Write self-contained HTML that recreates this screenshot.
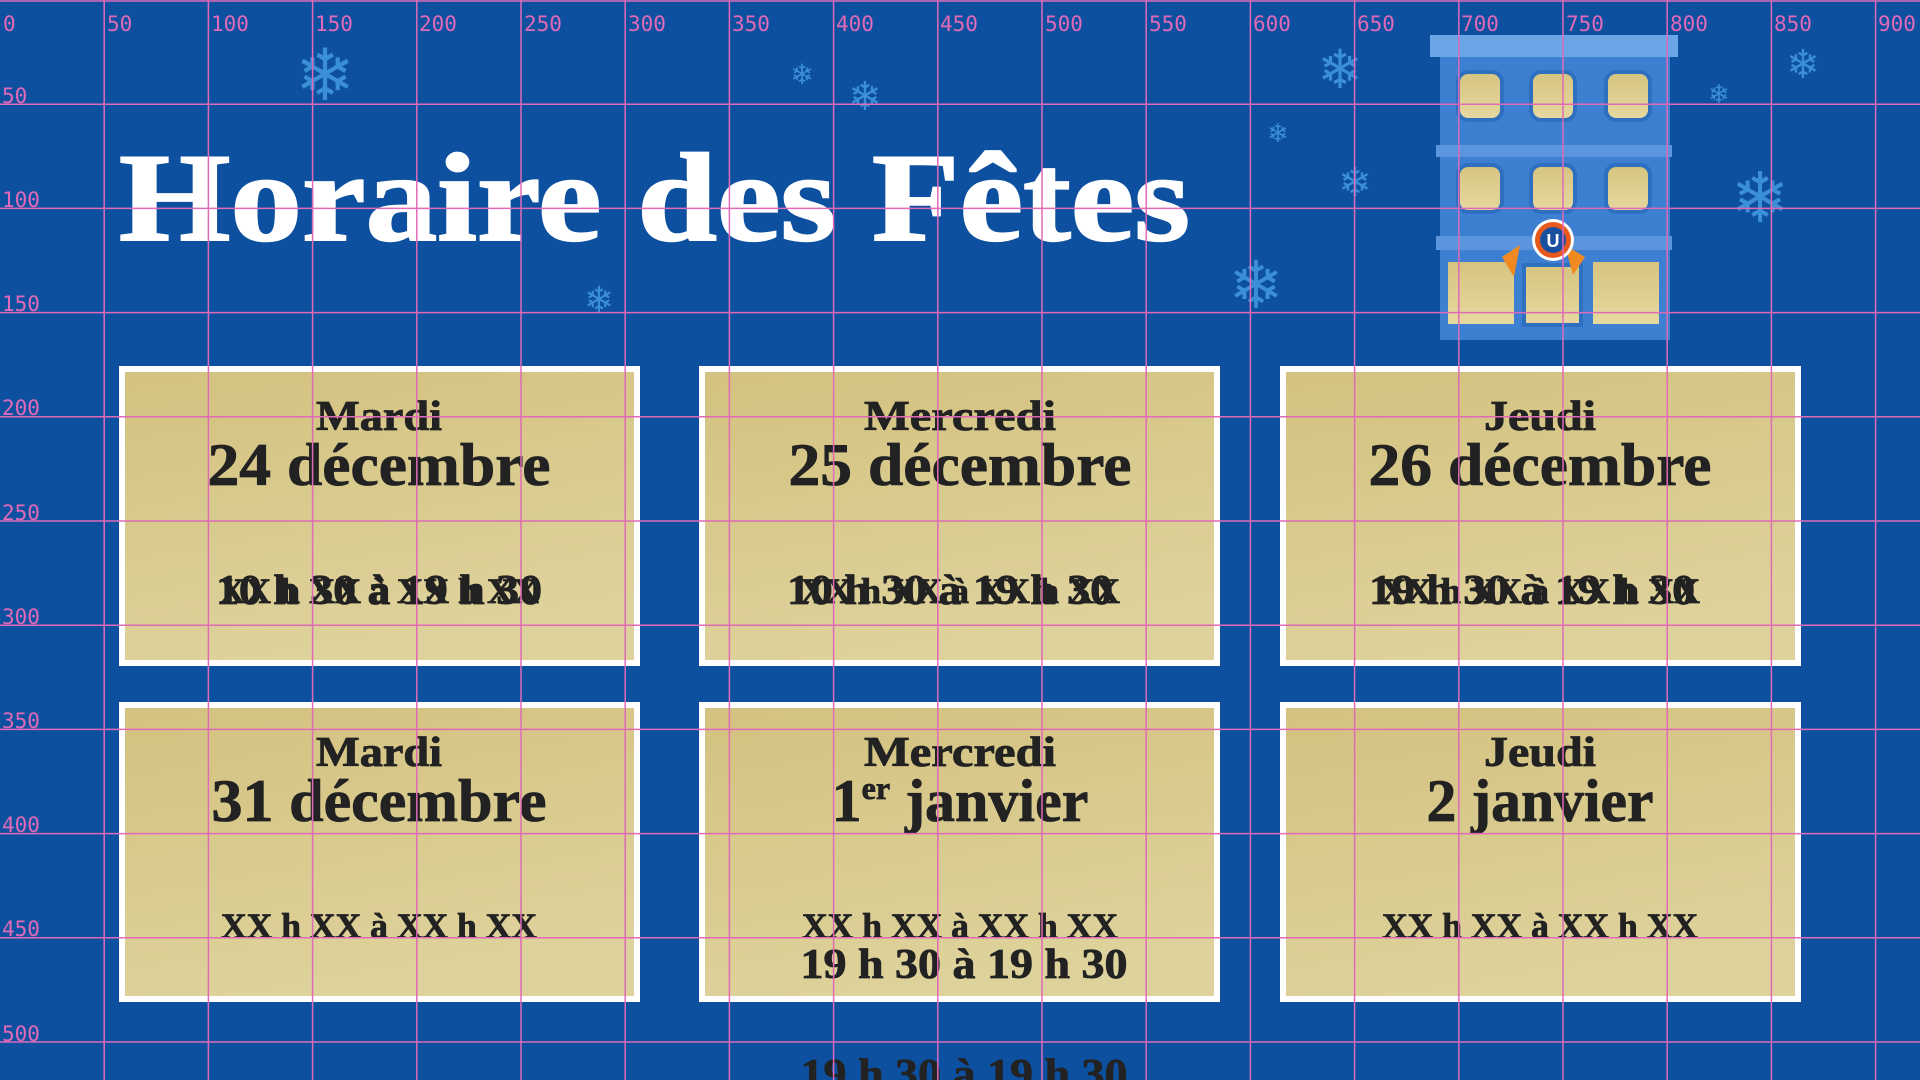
<!DOCTYPE html>
<html><head><meta charset="utf-8"><style>
html,body{margin:0;padding:0;background:#0e50a0;}
svg{display:block}
</style></head><body>
<svg width="1920" height="1080" viewBox="0 0 1920 1080" xmlns="http://www.w3.org/2000/svg">
<defs>
<linearGradient id="g" x1="0" y1="0" x2="0.3" y2="1">
<stop offset="0" stop-color="#d3c27f"/><stop offset="1" stop-color="#ded29c"/>
</linearGradient>
<linearGradient id="win" x1="0" y1="0" x2="0" y2="1">
<stop offset="0" stop-color="#d6c47f"/><stop offset="1" stop-color="#e6d8a0"/>
</linearGradient>
</defs>
<rect width="1920" height="1080" fill="#0e50a0"/>
<g fill="#3a8fd6" font-family="DejaVu Sans, sans-serif" text-anchor="middle">
<text x="325" y="100" font-size="72">❄</text>
<text x="802" y="84" font-size="28">❄</text>
<text x="865" y="110" font-size="40">❄</text>
<text x="599" y="312" font-size="36">❄</text>
<text x="1340" y="88" font-size="54">❄</text>
<text x="1278" y="142" font-size="26">❄</text>
<text x="1355" y="196" font-size="40">❄</text>
<text x="1256" y="308" font-size="66">❄</text>
<text x="1760" y="222" font-size="70">❄</text>
<text x="1803" y="78" font-size="40">❄</text>
<text x="1719" y="103" font-size="26">❄</text>
</g>
<g>
<rect x="1440" y="40" width="230" height="300" fill="#3d7fd0"/>
<rect x="1430" y="35" width="248" height="22" fill="#6aa6e6"/>
<rect x="1436" y="145" width="236" height="12" fill="#5a95dd"/>
<rect x="1436" y="236" width="236" height="14" fill="#5a95dd"/>
<rect x="1458" y="72" width="44" height="48" rx="10" fill="url(#win)" stroke="#2e6fc0" stroke-width="4"/>
<rect x="1531" y="72" width="44" height="48" rx="10" fill="url(#win)" stroke="#2e6fc0" stroke-width="4"/>
<rect x="1606" y="72" width="44" height="48" rx="10" fill="url(#win)" stroke="#2e6fc0" stroke-width="4"/>
<rect x="1458" y="165" width="44" height="47" rx="10" fill="url(#win)" stroke="#2e6fc0" stroke-width="4"/>
<rect x="1531" y="165" width="44" height="47" rx="10" fill="url(#win)" stroke="#2e6fc0" stroke-width="4"/>
<rect x="1606" y="165" width="44" height="47" rx="10" fill="url(#win)" stroke="#2e6fc0" stroke-width="4"/>
<rect x="1448" y="262" width="66" height="62" fill="url(#win)"/>
<rect x="1593" y="262" width="66" height="62" fill="url(#win)"/>
<rect x="1524" y="265" width="57" height="60" fill="url(#win)" stroke="#2e6fc0" stroke-width="4"/>
<path d="M1520 245 l-18 12 l12 20 z M1565 245 l20 12 l-12 18 z" fill="#f08a20"/>
<circle cx="1553" cy="240" r="21" fill="#fff"/>
<circle cx="1553" cy="240" r="18" fill="#e85a1c"/>
<circle cx="1553" cy="240" r="13" fill="#1a4fa0"/>
<text x="1553" y="247" font-family="Liberation Sans, sans-serif" font-weight="bold" font-size="18" fill="#fff" text-anchor="middle">U</text>
</g>
<text x="119" y="240" font-family="Liberation Serif, serif" font-weight="bold" font-size="126" fill="#fff" stroke="#fff" stroke-width="2" textLength="1071" lengthAdjust="spacingAndGlyphs">Horaire des Fêtes</text>
<g fill="url(#g)" stroke="#fff" stroke-width="6">
<rect x="122" y="369" width="515" height="294"/>
<rect x="702" y="369" width="515" height="294"/>
<rect x="1283" y="369" width="515" height="294"/>
<rect x="122" y="705" width="515" height="294"/>
<rect x="702" y="705" width="515" height="294"/>
<rect x="1283" y="705" width="515" height="294"/>
</g>
<g font-family="Liberation Serif, serif" font-weight="bold" fill="#222" stroke="#222" stroke-width="0.8" text-anchor="middle">
<g font-size="42">
<text x="379" y="430" textLength="126" lengthAdjust="spacingAndGlyphs">Mardi</text>
<text x="960" y="430" textLength="192" lengthAdjust="spacingAndGlyphs">Mercredi</text>
<text x="1540" y="430" textLength="112" lengthAdjust="spacingAndGlyphs">Jeudi</text>
<text x="379" y="766" textLength="126" lengthAdjust="spacingAndGlyphs">Mardi</text>
<text x="960" y="766" textLength="192" lengthAdjust="spacingAndGlyphs">Mercredi</text>
<text x="1540" y="766" textLength="112" lengthAdjust="spacingAndGlyphs">Jeudi</text>
</g>
<g font-size="60">
<text x="379" y="485" textLength="343" lengthAdjust="spacingAndGlyphs">24 décembre</text>
<text x="960" y="485" textLength="343" lengthAdjust="spacingAndGlyphs">25 décembre</text>
<text x="1540" y="485" textLength="343" lengthAdjust="spacingAndGlyphs">26 décembre</text>
<text x="379" y="821" textLength="335" lengthAdjust="spacingAndGlyphs">31 décembre</text>
<text x="960" y="821">1<tspan font-size="32" dy="-22">er</tspan><tspan dy="22"> janvier</tspan></text>
<text x="1540" y="821" textLength="227" lengthAdjust="spacingAndGlyphs">2 janvier</text>
</g>
<g font-size="36">
<text x="379" y="603" textLength="320" lengthAdjust="spacingAndGlyphs">XX h XX à XX h XX</text>
<text x="960" y="603" textLength="320" lengthAdjust="spacingAndGlyphs">XX h XX à XX h XX</text>
<text x="1540" y="603" textLength="320" lengthAdjust="spacingAndGlyphs">XX h XX à XX h XX</text>
<text x="379" y="938" textLength="316" lengthAdjust="spacingAndGlyphs">XX h XX à XX h XX</text>
<text x="960" y="938" textLength="316" lengthAdjust="spacingAndGlyphs">XX h XX à XX h XX</text>
<text x="1540" y="938" textLength="316" lengthAdjust="spacingAndGlyphs">XX h XX à XX h XX</text>
</g>
<g font-size="42">
<text x="379" y="604" textLength="326" lengthAdjust="spacingAndGlyphs">10 h 30 à 19 h 30</text>
<text x="950" y="604" textLength="326" lengthAdjust="spacingAndGlyphs">10 h 30 à 19 h 30</text>
<text x="1532" y="604" textLength="326" lengthAdjust="spacingAndGlyphs">19 h 30 à 19 h 30</text>
<text x="964" y="978" textLength="327" lengthAdjust="spacingAndGlyphs">19 h 30 à 19 h 30</text>
<text x="964" y="1088" textLength="327" lengthAdjust="spacingAndGlyphs">19 h 30 à 19 h 30</text>
</g>
</g>
<g stroke="#e06ab8" stroke-width="1.5" fill="none">
<line x1="0" y1="1" x2="1920" y2="1"/>
<line x1="104.2" y1="0" x2="104.2" y2="1080"/><line x1="208.4" y1="0" x2="208.4" y2="1080"/><line x1="312.6" y1="0" x2="312.6" y2="1080"/><line x1="416.8" y1="0" x2="416.8" y2="1080"/><line x1="521" y1="0" x2="521" y2="1080"/><line x1="625.2" y1="0" x2="625.2" y2="1080"/><line x1="729.4" y1="0" x2="729.4" y2="1080"/><line x1="833.6" y1="0" x2="833.6" y2="1080"/><line x1="937.8" y1="0" x2="937.8" y2="1080"/><line x1="1042" y1="0" x2="1042" y2="1080"/><line x1="1146.2" y1="0" x2="1146.2" y2="1080"/><line x1="1250.4" y1="0" x2="1250.4" y2="1080"/><line x1="1354.6" y1="0" x2="1354.6" y2="1080"/><line x1="1458.8" y1="0" x2="1458.8" y2="1080"/><line x1="1563" y1="0" x2="1563" y2="1080"/><line x1="1667.2" y1="0" x2="1667.2" y2="1080"/><line x1="1771.4" y1="0" x2="1771.4" y2="1080"/><line x1="1875.6" y1="0" x2="1875.6" y2="1080"/>
<line x1="0" y1="104.2" x2="1920" y2="104.2"/><line x1="0" y1="208.4" x2="1920" y2="208.4"/><line x1="0" y1="312.6" x2="1920" y2="312.6"/><line x1="0" y1="416.8" x2="1920" y2="416.8"/><line x1="0" y1="521" x2="1920" y2="521"/><line x1="0" y1="625.2" x2="1920" y2="625.2"/><line x1="0" y1="729.4" x2="1920" y2="729.4"/><line x1="0" y1="833.6" x2="1920" y2="833.6"/><line x1="0" y1="937.8" x2="1920" y2="937.8"/><line x1="0" y1="1042" x2="1920" y2="1042"/>
</g>
<g fill="#e06ab8" font-family="DejaVu Sans Mono, Liberation Mono, monospace" font-size="21">
<text x="3" y="31">0</text><text x="107" y="31">50</text><text x="211" y="31">100</text><text x="315" y="31">150</text><text x="419" y="31">200</text><text x="524" y="31">250</text><text x="628" y="31">300</text><text x="732" y="31">350</text><text x="836" y="31">400</text><text x="940" y="31">450</text><text x="1045" y="31">500</text><text x="1149" y="31">550</text><text x="1253" y="31">600</text><text x="1357" y="31">650</text><text x="1461" y="31">700</text><text x="1566" y="31">750</text><text x="1670" y="31">800</text><text x="1774" y="31">850</text><text x="1878" y="31">900</text>
<text x="2" y="103">50</text><text x="2" y="207">100</text><text x="2" y="311">150</text><text x="2" y="415">200</text><text x="2" y="520">250</text><text x="2" y="624">300</text><text x="2" y="728">350</text><text x="2" y="832">400</text><text x="2" y="936">450</text><text x="2" y="1041">500</text>
</g>
</svg>
</body></html>
